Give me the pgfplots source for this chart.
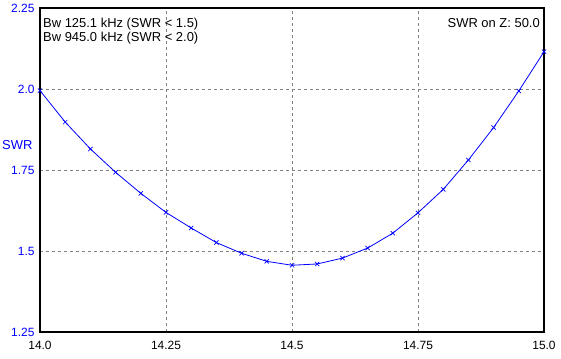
\documentclass[border=0pt]{standalone}
\usepackage{pgfplots}
\pgfplotsset{compat=1.18}
\usepackage{fontspec}
\setmainfont{Liberation Sans}
\definecolor{swrblue}{RGB}{0,0,255}
\definecolor{gridgray}{RGB}{128,128,128}
\begin{document}
\begin{tikzpicture}[x=1bp,y=1bp]
\begin{axis}[
  at={(0,0)}, anchor=south west,
  scale only axis, width=504bp, height=324bp,
  xmin=14.0, xmax=15.0, ymin=1.25, ymax=2.25,
  xtick={14.0,14.25,14.5,14.75,15.0},
  xticklabels={14.0,14.25,14.5,14.75,15.0},
  ytick={1.25,1.5,1.75,2.0,2.25},
  yticklabels={1.25,1.5,1.75,2.0,2.25},
  major tick length=0pt,
  tick label style={font=\fontsize{12}{14}\selectfont},
  yticklabel style={text=swrblue, anchor=east, xshift=-2bp},
  xticklabel style={anchor=north, yshift=-6bp},
  grid=major,
  major grid style={gridgray, dashed, dash pattern=on 3bp off 3bp, line width=0.8bp},
  axis line style={black, line width=1.3bp},
  clip=false,
]
\addplot[swrblue, line width=0.8bp, mark=x, mark size=3bp, mark options={line width=0.7bp}] coordinates {
(14.00,1.995) (14.05,1.898) (14.10,1.815) (14.15,1.743) (14.20,1.678)
(14.25,1.619) (14.30,1.571) (14.35,1.526) (14.40,1.493) (14.45,1.468)
(14.50,1.456) (14.55,1.460) (14.60,1.478) (14.65,1.509) (14.70,1.555)
(14.75,1.618) (14.80,1.690) (14.85,1.781) (14.90,1.881) (14.95,1.994)
(15.00,2.115)
};
\end{axis}
\node[anchor=base west, inner sep=0pt, font=\fontsize{13}{15}\selectfont] at (3bp,304bp) {Bw 125.1 kHz (SWR < 1.5)};
\node[anchor=base west, inner sep=0pt, font=\fontsize{13}{15}\selectfont] at (3bp,290bp) {Bw 945.0 kHz (SWR < 2.0)};
\node[anchor=base east, inner sep=0pt, font=\fontsize{13}{15}\selectfont] at (500bp,304bp) {SWR on Z: 50.0};
\node[anchor=west, inner sep=0pt, text=swrblue, font=\fontsize{13}{15}\selectfont] at (-38bp,187bp) {SWR};
\pgfresetboundingbox
\useasboundingbox (-40bp,-27bp) rectangle (521bp,332bp);
\end{tikzpicture}
\end{document}
